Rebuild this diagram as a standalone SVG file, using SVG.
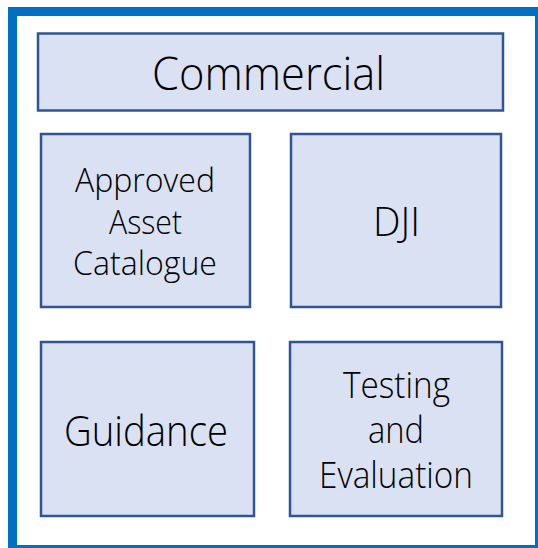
<svg xmlns="http://www.w3.org/2000/svg" width="538" height="548" viewBox="0 0 538 548">
<style>
.box{fill:#DAE1F2;stroke:#2F5597;stroke-width:2.5}
.t{font-family:"Open Sans","Segoe UI","Liberation Sans",sans-serif;font-weight:300;fill:#000;text-anchor:middle}
</style>
<rect x="0" y="0" width="538" height="548" fill="#fff"/>
<rect id="frame" x="12.5" y="11.5" width="527" height="538" fill="none" stroke="#0070C0" stroke-width="9"/>
<g id="commercial"><rect class="box" x="38" y="33.5" width="465" height="77"/><text class="t" x="268.5" y="90" font-size="46" textLength="233" lengthAdjust="spacingAndGlyphs">Commercial</text></g>
<g id="approved"><rect class="box" x="41" y="134" width="209" height="173"/><text class="t" x="145" y="192" font-size="33" textLength="140" lengthAdjust="spacingAndGlyphs">Approved</text><text class="t" x="145.5" y="233.5" font-size="33" textLength="73" lengthAdjust="spacingAndGlyphs">Asset</text><text class="t" x="145" y="275" font-size="33" textLength="144" lengthAdjust="spacingAndGlyphs">Catalogue</text></g>
<g id="dji"><rect class="box" x="291" y="134" width="210" height="173"/><text class="t" x="396.5" y="236" font-size="41" textLength="47" lengthAdjust="spacingAndGlyphs">DJI</text></g>
<g id="guidance"><rect class="box" x="41" y="342" width="213" height="174"/><text class="t" x="146" y="446" font-size="43" textLength="164" lengthAdjust="spacingAndGlyphs">Guidance</text></g>
<g id="testing"><rect class="box" x="290" y="342" width="212" height="174"/><text class="t" x="396.5" y="398" font-size="36" textLength="107" lengthAdjust="spacingAndGlyphs">Testing</text><text class="t" x="396" y="443" font-size="36" textLength="56" lengthAdjust="spacingAndGlyphs">and</text><text class="t" x="396" y="488" font-size="36" textLength="154" lengthAdjust="spacingAndGlyphs">Evaluation</text></g>
<g id="connectors"/>
</svg>
